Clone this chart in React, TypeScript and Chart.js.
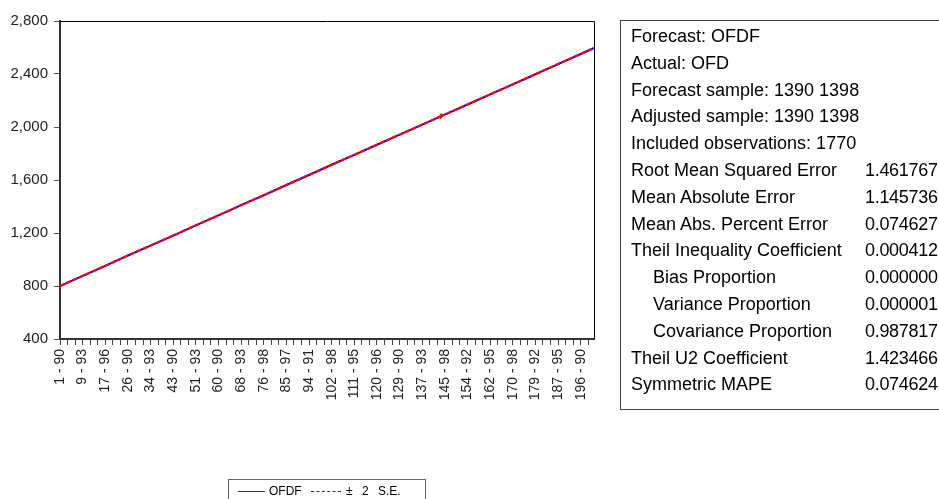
import React, { useEffect, useRef } from "react";
import { Chart, registerables } from "chart.js";
Chart.register(...registerables);

// x-axis: observation index (cross-section - year), labelled every 75 observations
const tickLabels = [
  "1 - 90", "9 - 93", "17 - 96", "26 - 90", "34 - 93", "43 - 90", "51 - 93", "60 - 90",
  "68 - 93", "76 - 98", "85 - 97", "94 - 91", "102 - 98", "111 - 95", "120 - 96", "129 - 90",
  "137 - 93", "145 - 98", "154 - 92", "162 - 95", "170 - 98", "179 - 92", "187 - 95", "196 - 90",
];
const labelEvery = 75;
const minorTickEvery = 25;
const lastObservation = 1769;

// readings of the forecast OFDF at these observation indices
const obsIndex = [
  0, 75, 150, 225, 300, 375, 450, 525, 600, 675, 750, 825, 900, 975, 1050, 1125, 1200,
  1259, 1262, 1265, 1275, 1350, 1425, 1500, 1575, 1650, 1725, 1769,
];
const forecastOFDF = [
  800, 876, 952, 1030, 1105, 1180, 1258, 1333, 1410, 1485, 1562, 1638, 1715, 1790, 1866, 1942, 2018,
  2078, 2082, 2085, 2094, 2170, 2246, 2322, 2398, 2475, 2551, 2596,
];
// forecast standard error at the same observations
const forecastSE = [
  1.4, 1.4, 1.5, 1.4, 1.5, 1.4, 1.5, 1.4, 1.5, 1.4, 1.5, 1.4, 1.5, 1.4, 1.5, 1.4, 1.5,
  1.5, 12, 1.5, 1.4, 1.5, 1.4, 1.5, 1.4, 1.5, 1.4, 1.5,
];

const yTicks = { min: 400, max: 2800, step: 400 };

const statRows: { label: string; value: string; indent?: boolean }[] = [
  { label: "Forecast: OFDF", value: "" },
  { label: "Actual: OFD", value: "" },
  { label: "Forecast sample: 1390 1398", value: "" },
  { label: "Adjusted sample: 1390 1398", value: "" },
  { label: "Included observations: 1770", value: "" },
  { label: "Root Mean Squared Error", value: "1.461767" },
  { label: "Mean Absolute Error", value: "1.145736" },
  { label: "Mean Abs. Percent Error", value: "0.074627" },
  { label: "Theil Inequality Coefficient", value: "0.000412" },
  { label: "Bias Proportion", value: "0.000000", indent: true },
  { label: "Variance Proportion", value: "0.000001", indent: true },
  { label: "Covariance Proportion", value: "0.987817", indent: true },
  { label: "Theil U2 Coefficient", value: "1.423466" },
  { label: "Symmetric MAPE", value: "0.074624" },
];

const FONT = "Arial, 'Liberation Sans', sans-serif";

export default function App() {
  const canvasRef = useRef<HTMLCanvasElement | null>(null);

  useEffect(() => {
    if (!canvasRef.current) return;
    const forecastPts = obsIndex.map((x, i) => ({ x, y: forecastOFDF[i] }));
    const upperPts = obsIndex.map((x, i) => ({ x, y: forecastOFDF[i] + 2 * forecastSE[i] }));
    const lowerPts = obsIndex.map((x, i) => ({ x, y: forecastOFDF[i] - 2 * forecastSE[i] }));

    const framePlugin = {
      id: "frame",
      afterDraw(chart: any) {
        const { ctx, chartArea } = chart;
        ctx.save();
        ctx.strokeStyle = "#000";
        ctx.lineWidth = 1;
        ctx.beginPath();
        ctx.moveTo(chartArea.left, chartArea.top + 0.5);
        ctx.lineTo(chartArea.right + 0.5, chartArea.top + 0.5);
        ctx.lineTo(chartArea.right + 0.5, chartArea.bottom);
        ctx.stroke();
        ctx.restore();
      },
    };

    const chart = new Chart(canvasRef.current, {
      type: "line",
      data: {
        datasets: [
          {
            label: "± 2 S.E.",
            data: upperPts,
            borderColor: "#ff0000",
            borderWidth: 1.5,
            borderDash: [5, 2],
            pointRadius: 0,
            tension: 0,
            order: 0,
          },
          {
            label: "± 2 S.E. lower",
            data: lowerPts,
            borderColor: "#ff0000",
            borderWidth: 1.5,
            borderDash: [5, 2],
            pointRadius: 0,
            tension: 0,
            order: 0,
          },
          {
            label: "OFDF",
            data: forecastPts,
            borderColor: "#0000ff",
            borderWidth: 2,
            pointRadius: 0,
            tension: 0,
            order: 1,
          },
        ],
      },
      options: {
        animation: false,
        responsive: false,
        maintainAspectRatio: false,
        layout: { padding: { left: 0, top: 21, right: 345, bottom: 0 } },
        plugins: { legend: { display: false }, tooltip: { enabled: false }, title: { display: false } },
        scales: {
          x: {
            type: "linear",
            min: 0,
            max: lastObservation,
            afterBuildTicks(scale: any) {
              const t: { value: number }[] = [];
              for (let v = 0; v <= lastObservation; v += minorTickEvery) t.push({ value: v });
              scale.ticks = t;
            },
            afterFit(scale: any) {
              scale.height = 160;
            },
            grid: {
              drawOnChartArea: false,
              drawTicks: true,
              tickLength: 6,
              color: "#444",
              lineWidth: 1,
            },
            border: { display: true, color: "#333", width: 2 },
            ticks: {
              autoSkip: false,
              maxRotation: 90,
              minRotation: 90,
              padding: 4,
              color: "#222",
              font: { family: FONT, size: 14 },
              callback(value: any) {
                const v = Number(value);
                if (v % labelEvery === 0) return tickLabels[v / labelEvery] ?? "";
                return "";
              },
            },
          },
          y: {
            type: "linear",
            min: yTicks.min,
            max: yTicks.max,
            afterFit(scale: any) {
              scale.width = 60;
            },
            grid: {
              drawOnChartArea: false,
              drawTicks: true,
              tickLength: 6,
              color: "#555",
            },
            border: { display: true, color: "#333", width: 2 },
            ticks: {
              stepSize: yTicks.step,
              padding: 6,
              color: "#222",
              font: { family: FONT, size: 15 },
              callback(value: any) {
                return Number(value).toLocaleString("en-US");
              },
            },
          },
        },
      },
      plugins: [framePlugin],
    } as any);
    return () => chart.destroy();
  }, []);

  return (
    <div
      style={{
        position: "absolute",
        left: 0,
        top: 0,
        width: 939,
        height: 499,
        overflow: "hidden",
        background: "#fff",
        fontFamily: FONT,
      }}
    >
      <canvas ref={canvasRef} width={939} height={499} style={{ position: "absolute", left: 0, top: 0 }} />
      <div
        style={{
          position: "absolute",
          left: 620,
          top: 20,
          width: 340,
          height: 390,
          border: "1px solid #444",
          boxSizing: "border-box",
          paddingTop: 2,
          color: "#000",
          fontSize: 18,
        }}
      >
        {statRows.map((r, i) => (
          <div key={i} style={{ position: "relative", height: 26.8, lineHeight: "26px", whiteSpace: "nowrap" }}>
            <span style={{ position: "absolute", left: r.indent ? 32 : 10 }}>{r.label}</span>
            {r.value && <span style={{ position: "absolute", left: 244, letterSpacing: -0.3 }}>{r.value}</span>}
          </div>
        ))}
      </div>
      <div
        style={{
          position: "absolute",
          left: 228,
          top: 479,
          width: 198,
          height: 30,
          border: "1px solid #666",
          boxSizing: "border-box",
          fontSize: 12,
          color: "#000",
        }}
      >
        <div style={{ position: "absolute", left: 9, top: 11, width: 27, borderTop: "1px solid #333" }} />
        <span style={{ position: "absolute", left: 40, top: 3, lineHeight: "16px" }}>OFDF</span>
        <div style={{ position: "absolute", left: 82, top: 11, width: 30, borderTop: "1px dashed #333" }} />
        <span style={{ position: "absolute", left: 117, top: 3, lineHeight: "16px", wordSpacing: 6 }}>± 2 S.E.</span>
      </div>
    </div>
  );
}
